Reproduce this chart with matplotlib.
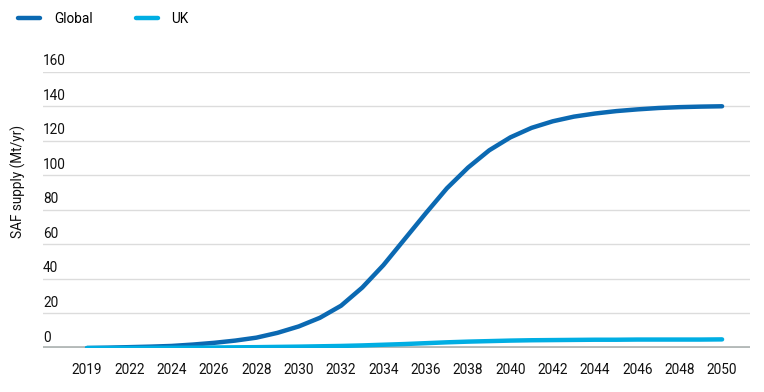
import matplotlib.pyplot as plt
import matplotlib.transforms as mtransforms

plt.rcParams['font.family'] = ['Roboto', 'DejaVu Sans']

# Etiquetas del eje x (categorias equiespaciadas)
years = ['2019', '2022', '2024', '2026', '2028', '2030', '2032', '2034',
         '2036', '2038', '2040', '2042', '2044', '2046', '2048', '2050']

# Lecturas del grafico cada media categoria (Mt/yr)
global_saf = [0, 0.2, 0.5, 0.8, 1.2, 2.0, 3.0, 4.3, 6.0, 8.8, 12.5, 17.5,
              24.5, 35, 48, 63, 78, 92.5, 104.5, 114.5, 122, 127.5, 131.3,
              134, 135.8, 137.2, 138.2, 139, 139.5, 139.8, 140]
uk_saf = [0, 0, 0.05, 0.1, 0.15, 0.2, 0.3, 0.4, 0.5, 0.65, 0.8, 1.0,
          1.2, 1.5, 1.9, 2.3, 2.8, 3.3, 3.7, 4.0, 4.3, 4.5, 4.6, 4.7,
          4.8, 4.8, 4.9, 4.9, 4.9, 4.9, 5.0]

y_ticks = [0, 20, 40, 60, 80, 100, 120, 140, 160]

color_global = '#0b69b2'
color_uk = '#00aee3'

fig = plt.figure(figsize=(7.64, 3.92), dpi=100)
ax = fig.add_axes([0.0563, 0.1122, 0.9254, 0.7048])

x_half = [i / 2 for i in range(len(global_saf))]

ax.plot(x_half, global_saf, color=color_global, lw=3.2,
        solid_capstyle='round', label='Global', zorder=4)
ax.plot(x_half, uk_saf, color=color_uk, lw=3.2,
        solid_capstyle='round', label='UK', zorder=5)

ax.set_xlim(-1.04, 15.66)
ax.set_ylim(0, 160)

# Lineas de cuadricula
for v in y_ticks[1:]:
    ax.axhline(v, color='#dcdcdc', lw=1, zorder=1)
ax.axhline(0, color='#b4bab9', lw=3.5, zorder=2)

# Etiquetas del eje y sobre las lineas
trans = mtransforms.blended_transform_factory(ax.transAxes, ax.transData)
offset = mtransforms.ScaledTranslation(0, 2.5 / 72, fig.dpi_scale_trans)
for v in y_ticks:
    ax.text(0.0, v, str(v), transform=trans + offset, ha='left',
            va='bottom', fontsize=9.8, color='#111111')

ax.set_yticks([])
ax.set_xticks(range(len(years)))
ax.set_xticklabels(years, fontsize=9.8, color='#111111')
ax.tick_params(axis='x', length=0, pad=11)

for s in ax.spines.values():
    s.set_visible(False)

fig.text(0.024, 0.536, 'SAF supply (Mt/yr)', rotation=90, ha='center',
         va='center', fontsize=9.8, color='#111111')

fig.legend(loc='upper left', bbox_to_anchor=(0.008, 1.0), ncol=2,
           frameon=False, fontsize=9.8, handlelength=1.6,
           columnspacing=3.2, handletextpad=1.0)

fig.savefig('out.png', dpi=100, facecolor='white')
